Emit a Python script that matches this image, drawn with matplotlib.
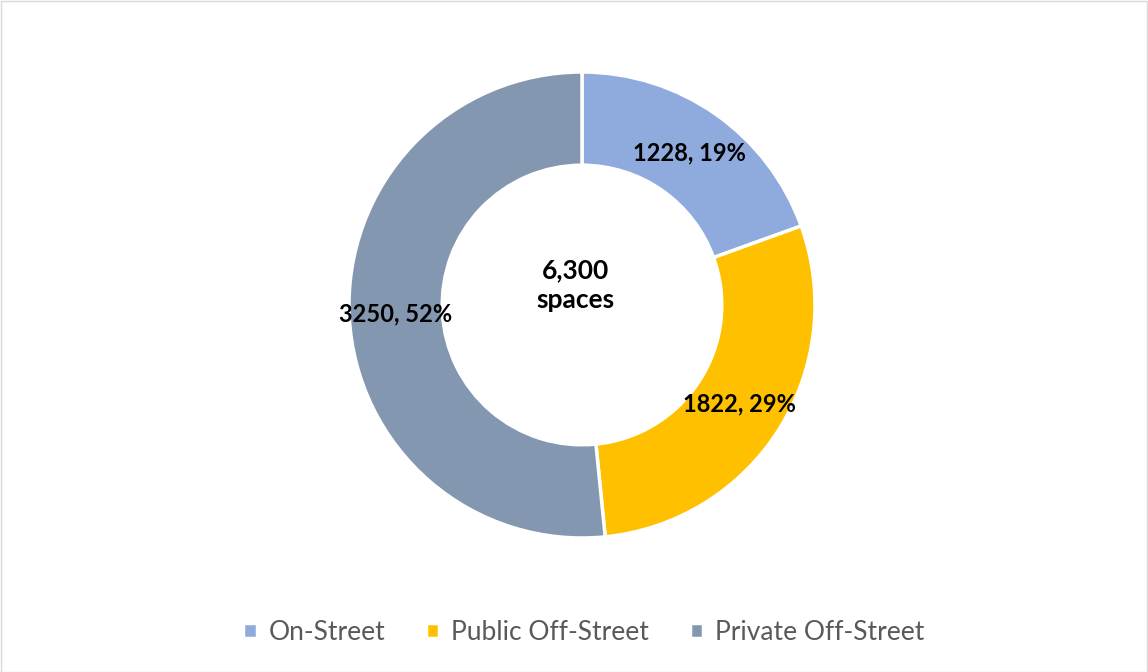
import matplotlib
matplotlib.use("Agg")
import matplotlib.pyplot as plt
from matplotlib.patches import Rectangle

categories = ["On-Street", "Public Off-Street", "Private Off-Street"]
values = [1228, 1822, 3250]
colors = ["#8FAADC", "#FFC000", "#8497B0"]
center_text = "6,300\nspaces"

plt.rcParams['font.family'] = ['Lato', 'DejaVu Sans']

W, H = 1148, 672
fig = plt.figure(figsize=(W / 100, H / 100), dpi=100)

cx, cy, R = 582, 305, 233
ax = fig.add_axes([(cx - R) / W, (H - cy - R) / H, 2 * R / W, 2 * R / H])

total = sum(values)

def fmt(p):
    v = int(round(p * total / 100))
    return f"{v}, {p:.0f}%"

wedges, texts, autotexts = ax.pie(
    values, colors=colors, startangle=90, counterclock=False,
    radius=1.0, autopct=fmt, pctdistance=0.8,
    wedgeprops=dict(width=0.4, edgecolor="white", linewidth=2.5),
    textprops=dict(fontsize=17, fontweight="bold", color="black"))
ax.set_xlim(-1, 1)
ax.set_ylim(-1, 1)
ax.set_aspect("equal")
ax.axis("off")

ax.text(-0.03, 0.085, center_text, ha="center", va="center", fontsize=19,
        fontweight="bold", color="black", linespacing=1.3)

leg = fig.legend(wedges, categories, loc="center", bbox_to_anchor=(584 / W, 1 - 632 / H),
                 ncol=3, frameon=False, fontsize=19, handlelength=0.5, handleheight=0.5,
                 columnspacing=1.55, handletextpad=0.45)
for t in leg.get_texts():
    t.set_color("#595959")

fig.patches.append(Rectangle((0.5 / W, 0.5 / H), 1 - 1.5 / W, 1 - 1.5 / H,
                             transform=fig.transFigure, fill=False,
                             edgecolor="#D9D9D9", linewidth=1))

fig.savefig("out.png", dpi=100)
